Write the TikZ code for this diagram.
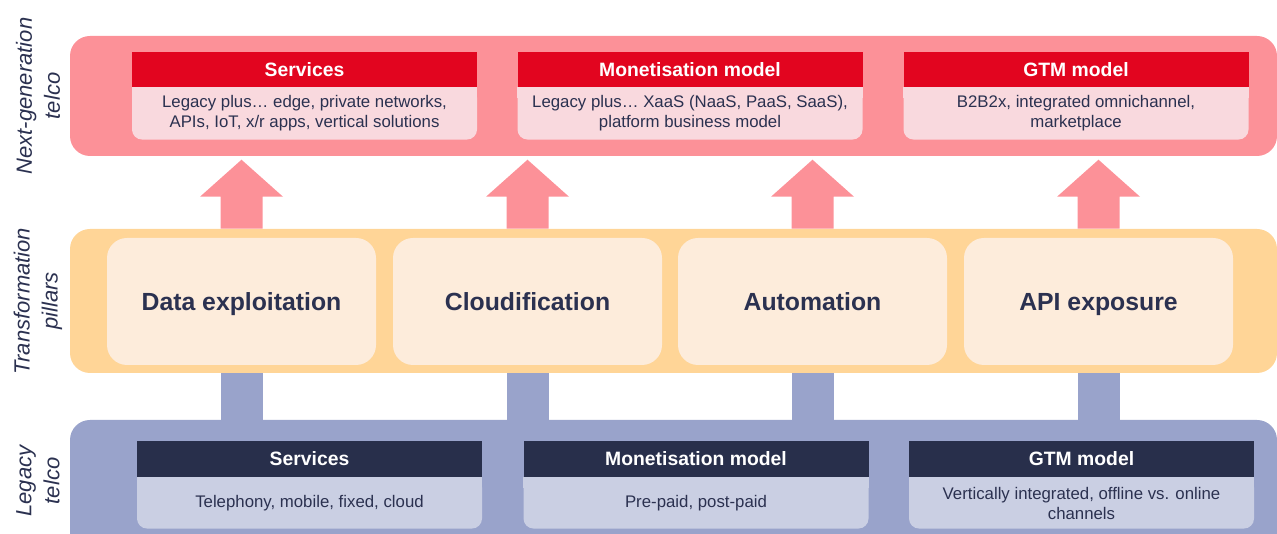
\documentclass[tikz,border=0pt]{standalone}
\usepackage{fontspec}
\setmainfont{Liberation Sans}
\usetikzlibrary{positioning}
\definecolor{ngpink}{HTML}{FC9198}
\definecolor{ngred}{HTML}{E2051F}
\definecolor{ngpale}{HTML}{F9D9DE}
\definecolor{pilband}{HTML}{FFD597}
\definecolor{pilpale}{HTML}{FDECDB}
\definecolor{lgblue}{HTML}{99A3CB}
\definecolor{lgnavy}{HTML}{282F4B}
\definecolor{lgpale}{HTML}{CACFE3}
\definecolor{txt}{HTML}{2B3150}
\tikzset{
  band/.style={rounded corners=15pt, minimum width=905.25pt, inner sep=0pt},
  side/.style={rotate=90, align=center, text=txt, font=\fontsize{16.5}{21}\selectfont\itshape},
  head/.style={minimum width=258.75pt, minimum height=26.25pt, inner sep=0pt, text height=12pt, text depth=1.5pt, text=white, font=\fontsize{14.5}{16}\selectfont\bfseries},
  body/.style={minimum width=258.75pt, minimum height=39pt, inner sep=0pt, align=center, text=txt, rounded corners=7.5pt, font=\fontsize{12.6}{15}\selectfont},
  pillar/.style={fill=pilpale, rounded corners=15pt, minimum width=201.75pt, minimum height=95.25pt, inner sep=0pt, text height=15.7pt, text depth=2.3pt, text=txt, font=\fontsize{18.6}{22}\selectfont\bfseries}
}
\begin{document}
\begin{tikzpicture}[x=0.75pt,y=0.75pt]
	\useasboundingbox (0,0) rectangle (1277,534);
	\clip (0,0) rectangle (1277,534);
	
	\node[band, fill=ngpink, minimum height=90pt] (ng) at (673.5,438) {};
	\node[band, fill=pilband, minimum height=108pt] (pil) at (673.5,233) {};
	\node[band, fill=lgblue, minimum height=108pt] (lg) at (673.5,42) {};
	
	\node[side] (nglab) at (38,438) {Next-generation\\telco};
	\node[side] (pillab) at (38,233) {Transformation\\pillars};
	\node[side] (lglab) at (38,53) {Legacy\\telco};
	
	\foreach \n/\x/\h/\t in {svc/304.5/Services/{Legacy plus… edge, private networks,\\APIs, IoT, x/r apps, vertical solutions},
		mon/690/Monetisation model/{Legacy plus… XaaS (NaaS, PaaS, SaaS),\\platform business model},
		gtm/1076/GTM model/{B2B2x, integrated omnichannel,\\marketplace}}
	{
		\node[head, fill=ngred] (ng\n) at (\x,464.5) {\h};
		\fill[ngpale] (ng\n.south west) rectangle ([yshift=-8pt]ng\n.south east);
		\node[body, fill=ngpale, below=0pt of ng\n] (ng\n-b) {\t};
	}
	
	\foreach \n/\x/\h/\t in {svc/309.5/Services/{Telephony, mobile, fixed, cloud},
		mon/696/Monetisation model/{Pre-paid, post-paid},
		gtm/1081.5/GTM model/{Vertically integrated, offline vs. online\\channels}}
	{
		\node[head, fill=lgnavy, minimum height=27pt] (lg\n) at (\x,75) {\h};
		\fill[lgpale] (lg\n.south west) rectangle ([yshift=-8pt]lg\n.south east);
		\node[body, fill=lgpale, minimum height=38.25pt, below=0pt of lg\n] (lg\n-b) {\t};
	}
	
	\foreach \i/\x/\t in {1/241.5/Data exploitation, 2/527.5/Cloudification, 3/812.5/Automation, 4/1098.5/API exposure}
	{
		\node[pillar] (pil\i) at (\x,232.5) {\t};
	}
	
	\foreach \i in {1,...,4}
	{
		\fill[ngpink] (pil\i |- pil.north) ++(-21,0) -- ++(0,32) -- ++(-20.5,0) -- ++(41.5,37) -- ++(41.5,-37) -- ++(-20.5,0) -- ++(0,-32) -- cycle;
		\draw[lgblue, line width=31.5pt] (pil\i |- pil.south) -- (pil\i |- lg.north);
	}
	
\end{tikzpicture}
\end{document}
